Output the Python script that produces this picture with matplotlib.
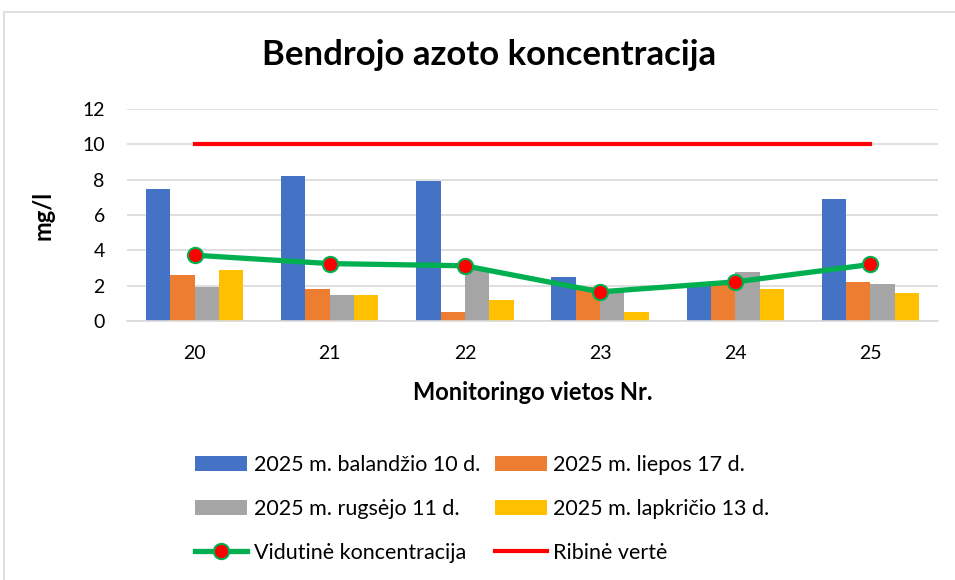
import numpy as np
import matplotlib
matplotlib.use("Agg")
import matplotlib.pyplot as plt
from matplotlib.patches import Rectangle

plt.rcParams['font.family'] = ['Lato', 'DejaVu Sans']

# data
sites = ['20', '21', '22', '23', '24', '25']
series_names = ['2025 m. balandžio 10 d.', '2025 m. liepos 17 d.',
                '2025 m. rugsėjo 11 d.', '2025 m. lapkričio 13 d.']
apr = [7.5, 8.2, 7.9, 2.5, 2.1, 6.9]
jul = [2.6, 1.8, 0.5, 1.9, 2.2, 2.2]
sep = [1.9, 1.5, 2.9, 1.7, 2.75, 2.1]
nov = [2.9, 1.5, 1.2, 0.5, 1.8, 1.6]
limit = [10, 10, 10, 10, 10, 10]
colors = ['#4472c4', '#ed7d31', '#a5a5a5', '#ffc000']

avg = np.mean([apr, jul, sep, nov], axis=0)

fig = plt.figure(figsize=(9.55, 5.8), dpi=100)
ax = fig.add_axes([127/955, 1 - 321/580, 811/955, 212/580])

x = np.arange(len(sites))
w = 0.18
bars = []
for i, (vals, c) in enumerate(zip([apr, jul, sep, nov], colors)):
    b = ax.bar(x + (i - 1.5) * w, vals, w, color=c, zorder=2, label=series_names[i])
    bars.append(b)

avg_line, = ax.plot(x, avg, color='#00b050', lw=3.8, marker='o', markersize=11,
                    markerfacecolor='#ff0000', markeredgecolor='#00b050',
                    markeredgewidth=1.5, zorder=4, label='Vidutinė koncentracija')
lim_line, = ax.plot(x, limit, color='#ff0000', lw=3, zorder=3, label='Ribinė vertė')

ax.set_xlim(-0.5, 5.5)
ax.set_ylim(0, 12)
ax.set_yticks(range(0, 13, 2))
ax.set_xticks(x)
ax.set_xticklabels(sites)
ax.tick_params(length=0, labelsize=14, colors='#000000')
ax.tick_params(axis='x', pad=17)
ax.tick_params(axis='y', pad=16)
ax.grid(axis='y', color='#d9d9d9', lw=1.2, zorder=0)
for s in ['top', 'right', 'left']:
    ax.spines[s].set_visible(False)
ax.spines['bottom'].set_color('#d9d9d9')
ax.spines['bottom'].set_linewidth(1.2)

ax.set_ylabel('mg/l', fontsize=17, fontweight='bold', labelpad=20)
ax.set_xlabel('Monitoringo vietos Nr.', fontsize=17, fontweight='bold', labelpad=14)
fig.text(0.512, 1 - 55/580, 'Bendrojo azoto koncentracija', ha='center', va='center',
         fontsize=25, fontweight='bold')

handles = [bars[0], bars[2], avg_line, bars[1], bars[3], lim_line]
fig.legend(handles=handles, labels=[h.get_label() for h in handles], ncol=2,
           loc='upper left', bbox_to_anchor=(176/955, 1 - 436/580), frameon=False,
           fontsize=15.5, handlelength=2.4, handleheight=0.7, labelspacing=1.1,
           columnspacing=0.7, handletextpad=0.3)

fig.patches.append(Rectangle((4/955, -0.1), 1.2, 1 - 12/580 + 0.1, transform=fig.transFigure,
                             fill=False, edgecolor='#d9d9d9', lw=1.2))

fig.savefig('out.png', dpi=100)
